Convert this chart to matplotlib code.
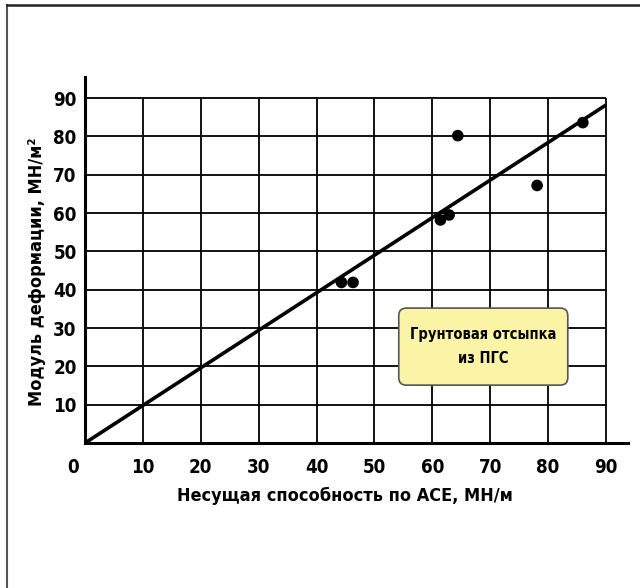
import matplotlib
matplotlib.use("Agg")
import matplotlib.pyplot as plt
from matplotlib.patches import FancyBboxPatch
from matplotlib.lines import Line2D

# ---- data ----
x_ticks = [10, 20, 30, 40, 50, 60, 70, 80, 90]
y_ticks = [10, 20, 30, 40, 50, 60, 70, 80, 90]
points_x = [44.3, 46.3, 61.4, 62.9, 64.4, 78.1, 86.0]
points_y = [41.9, 41.9, 58.2, 59.5, 80.2, 67.2, 83.6]
fit_x = [0, 90]
fit_y = [0, 88.2]
x_label = "Несущая способность по АСЕ, МН/м"
y_label = "Модуль деформации, МН/м²"
box_text = "Грунтовая отсыпка\nиз ПГС"

plt.rcParams['font.family'] = ['DejaVu Sans']
plt.rcParams['font.stretch'] = 'condensed'
plt.rcParams['font.weight'] = 'bold'

fig = plt.figure(figsize=(6.4, 5.88), dpi=100)
fig.patch.set_facecolor('white')
ax = fig.add_axes([85/640, (588-443)/588, 543/640, 366/588])
ax.set_xlim(0, 93.8)
ax.set_ylim(0, 95.5)

for s in ['top', 'right']:
    ax.spines[s].set_visible(False)
for s in ['left', 'bottom']:
    ax.spines[s].set_linewidth(2.2)
    ax.spines[s].set_color('black')

# grid limited to 0..90
ax.hlines(y_ticks, 0, 90, colors='black', linewidth=1.3, zorder=1)
ax.vlines(x_ticks, 0, 90, colors='black', linewidth=1.3, zorder=1)

ax.set_xticks(x_ticks)
ax.set_yticks(y_ticks)
ax.set_xticklabels([str(v) for v in x_ticks])
ax.set_yticklabels([str(v) for v in y_ticks])
ax.tick_params(axis='both', length=0, labelsize=13.5)
ax.tick_params(axis='x', pad=11)
ax.tick_params(axis='y', pad=6)
for lab in ax.get_xticklabels() + ax.get_yticklabels():
    lab.set_fontweight('bold')
    lab.set_fontstretch('condensed')

ax.annotate("0", xy=(-2.1, 0), xycoords=('data', 'axes fraction'),
            xytext=(0, -11), textcoords='offset points', ha='center', va='top',
            fontsize=13.5, fontweight='bold', fontstretch='condensed', annotation_clip=False)

# fit line
ax.plot(fit_x, fit_y, color='black', linewidth=2.6, zorder=3, solid_capstyle='butt')
# points
ax.scatter(points_x, points_y, s=70, color='black', zorder=4, edgecolors='none')

# annotation box
box = FancyBboxPatch((54.2, 15.1), 83.4 - 54.2, 35.2 - 15.1,
                     boxstyle="round,pad=0,rounding_size=1.3", mutation_aspect=1.5,
                     facecolor='#FBF4A6', edgecolor='#555555', linewidth=1.2,
                     transform=ax.transData, zorder=5)
ax.add_patch(box)
ax.text((54.2 + 83.4) / 2, (15.1 + 35.2) / 2, box_text, ha='center', va='center',
        fontsize=10.5, fontweight='bold', fontstretch='condensed', linespacing=1.7, zorder=6)

fig.text(345/640, 1 - 496/588, x_label, ha='center', va='center',
         fontsize=13, fontweight='bold', fontstretch='condensed')
fig.text(37/640, 1 - 272/588, y_label, ha='center', va='center', rotation=90,
         fontsize=13, fontweight='bold', fontstretch='condensed')

# outer frame
fig.add_artist(Line2D([7/640, 7/640], [0, 1 - 5/588], color='#555555', linewidth=1.5,
                      transform=fig.transFigure))
fig.add_artist(Line2D([7/640, 1], [1 - 5/588, 1 - 5/588], color='#222222', linewidth=1.8,
                      transform=fig.transFigure))

fig.savefig("out.png", dpi=100)
